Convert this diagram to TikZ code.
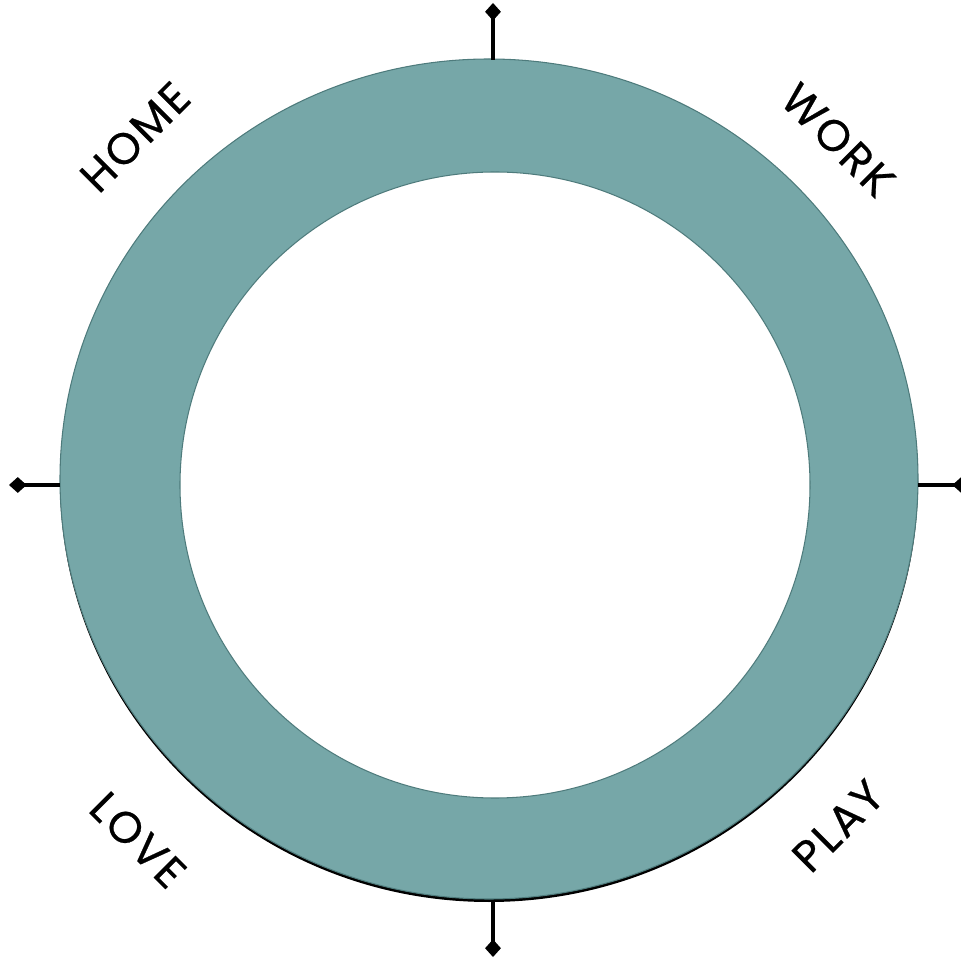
\documentclass[tikz,border=0pt]{standalone}
\usepackage{fontspec}
\setmainfont{Poppins}
\usetikzlibrary{arrows.meta}
\definecolor{ringfill}{HTML}{76A7A8}
\definecolor{ringline}{HTML}{4E7B7C}

\begin{document}
\begin{tikzpicture}[x=0.02cm, y=0.02cm,
	every node/.style={font=\fontsize{25}{30}\selectfont},
	ring/.style={fill=ringfill, draw=ringline, line width=0.6pt},
	tick/.style={line width=1.9pt, -{Kite[length=10pt,width=9pt,inset=5pt]}}]
	\useasboundingbox (0,0) rectangle (961,958);
	\coordinate (C) at (489,479);
	% ring
	\fill[black] (489,476) ellipse [x radius=429, y radius=420];
	\path[ring] (489,479) ellipse [x radius=429, y radius=420];
	\path[ring, fill=white] (495,473) ellipse [x radius=315, y radius=313];
	% ticks
	\coordinate (rN) at (493,898); \coordinate (tN) at (493,955);
	\coordinate (rS) at (493,58); \coordinate (tS) at (493,1);
	\coordinate (rW) at (60,473); \coordinate (tW) at (9,473);
	\coordinate (rE) at (918,473); \coordinate (tE) at (970,473);
	\foreach \a/\b in {rN/tN, rS/tS, rW/tW, rE/tE}
		\draw[tick] (\a) -- (\b);
	% labels
	\node[rotate=45] (home) at (135,821) {\addfontfeatures{LetterSpace=6,FakeBold=0.6}HOME};
	\node[rotate=-45] (work) at (838,818) {\addfontfeatures{LetterSpace=6,FakeBold=0.6}WORK};
	\node[rotate=-45] (love) at (138,118) {\addfontfeatures{LetterSpace=6,FakeBold=0.6}LOVE};
	\node[rotate=45] (play) at (838,132) {\addfontfeatures{LetterSpace=6,FakeBold=0.6}PLAY};
\end{tikzpicture}
\end{document}
